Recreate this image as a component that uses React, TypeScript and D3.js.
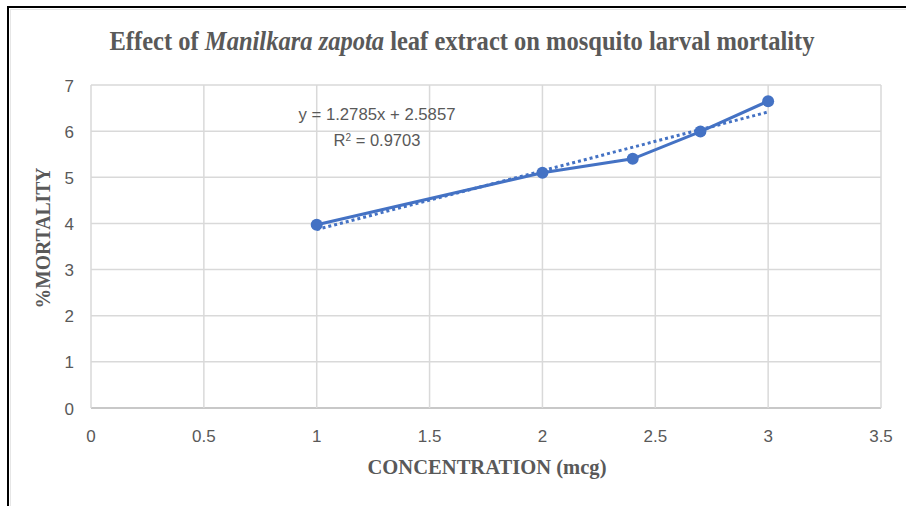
import React from "react";
import * as d3 from "d3";

const concentrations = [1, 2, 2.4, 2.7, 3];
const mortality = [3.97, 5.1, 5.4, 5.99, 6.65];
const xTicks = [0, 0.5, 1, 1.5, 2, 2.5, 3, 3.5];
const yTicks = [0, 1, 2, 3, 4, 5, 6, 7];
const equationText = "y = 1.2785x + 2.5857";
const r2Value = "0.9703";

const W = 906;
const H = 506;
const plot = { left: 91, right: 881, top: 85, bottom: 408 };
const blue = "#4472C4";
const grey = "#595959";
const gridC = "#d9d9d9";
const tickFont = "'Liberation Sans', Arial, sans-serif";
const serif = "'Liberation Serif', 'Times New Roman', serif";

export default function App() {
  const x = d3.scaleLinear().domain([0, 3.5]).range([plot.left, plot.right]);
  const y = d3.scaleLinear().domain([0, 7]).range([plot.bottom, plot.top]);

  const pts = concentrations.map((c, i) => [c, mortality[i]] as [number, number]);
  const line = d3
    .line<[number, number]>()
    .x((d) => x(d[0]))
    .y((d) => y(d[1]));

  // least-squares trendline computed from the data
  const mx = d3.mean(concentrations)!;
  const my = d3.mean(mortality)!;
  const sxy = d3.sum(pts, (p) => (p[0] - mx) * (p[1] - my));
  const sxx = d3.sum(pts, (p) => (p[0] - mx) ** 2);
  const slope = sxy / sxx;
  const intercept = my - slope * mx;
  const xmin = d3.min(concentrations)!;
  const xmax = d3.max(concentrations)!;
  const trend: [number, number][] = [
    [xmin, intercept + slope * xmin],
    [xmax, intercept + slope * xmax],
  ];

  return (
    <svg
      width={W}
      height={H}
      style={{ position: "absolute", left: 0, top: 0, background: "#fff" }}
    >
      <rect x={0} y={0} width={W} height={H} fill="#fff" />
      {/* frame */}
      <line x1={7} x2={W} y1={7} y2={7} stroke="#000" strokeWidth={2} />
      <line x1={8} x2={8} y1={7} y2={H} stroke="#000" strokeWidth={2} />
      <line x1={10} x2={W} y1={9.5} y2={9.5} stroke="#e6e6e6" strokeWidth={1} />
      <line x1={10.5} x2={10.5} y1={10} y2={H} stroke="#e6e6e6" strokeWidth={1} />

      {/* title */}
      <text
        x={462}
        y={50}
        textAnchor="middle"
        fontFamily={serif}
        fontWeight="bold"
        fontSize={27}
        fill={grey}
        textLength={705}
        lengthAdjust="spacingAndGlyphs"
      >
        Effect of <tspan fontStyle="italic">Manilkara zapota</tspan> leaf extract on mosquito larval mortality
      </text>

      {/* grid */}
      {yTicks.map((t) => (
        <line
          key={"gy" + t}
          x1={plot.left}
          x2={plot.right}
          y1={y(t)}
          y2={y(t)}
          stroke={t === 0 ? "#c8c8c8" : gridC}
          strokeWidth={t === 0 ? 2 : 1.5}
        />
      ))}
      {xTicks.map((t) => (
        <line
          key={"gx" + t}
          x1={x(t)}
          x2={x(t)}
          y1={plot.top}
          y2={plot.bottom}
          stroke={gridC}
          strokeWidth={1.5}
        />
      ))}

      {/* tick labels */}
      {yTicks.map((t) => (
        <text
          key={"ty" + t}
          x={74}
          y={y(t) + 6.5}
          textAnchor="end"
          fontFamily={tickFont}
          fontSize={17}
          fill={grey}
        >
          {t}
        </text>
      ))}
      {xTicks.map((t) => (
        <text
          key={"tx" + t}
          x={x(t)}
          y={442}
          textAnchor="middle"
          fontFamily={tickFont}
          fontSize={17}
          fill={grey}
        >
          {t}
        </text>
      ))}

      {/* axis titles */}
      <text
        x={487}
        y={474}
        textAnchor="middle"
        fontFamily={serif}
        fontWeight="bold"
        fontSize={21}
        fill={grey}
        textLength={239}
        lengthAdjust="spacingAndGlyphs"
      >
        CONCENTRATION (mcg)
      </text>
      <text
        transform={`translate(50, 238) rotate(-90)`}
        textAnchor="middle"
        fontFamily={serif}
        fontWeight="bold"
        fontSize={21}
        fill={grey}
        textLength={141}
        lengthAdjust="spacingAndGlyphs"
      >
        %MORTALITY
      </text>

      {/* trendline */}
      <path
        d={line(trend)!}
        fill="none"
        stroke={blue}
        strokeWidth={3}
        strokeDasharray="3 3"
      />

      {/* data line */}
      <path d={line(pts)!} fill="none" stroke={blue} strokeWidth={3} />
      {pts.map((p, i) => (
        <circle key={"p" + i} cx={x(p[0])} cy={y(p[1])} r={6} fill={blue} />
      ))}

      {/* equation */}
      <text
        x={377}
        y={120}
        textAnchor="middle"
        fontFamily={tickFont}
        fontSize={16.5}
        fill={grey}
        textLength={157}
        lengthAdjust="spacingAndGlyphs"
      >
        {equationText}
      </text>
      <text
        x={377}
        y={146}
        textAnchor="middle"
        fontFamily={tickFont}
        fontSize={16.5}
        fill={grey}
      >
        R<tspan baselineShift="super" fontSize={10}>2</tspan> = {r2Value}
      </text>
    </svg>
  );
}
